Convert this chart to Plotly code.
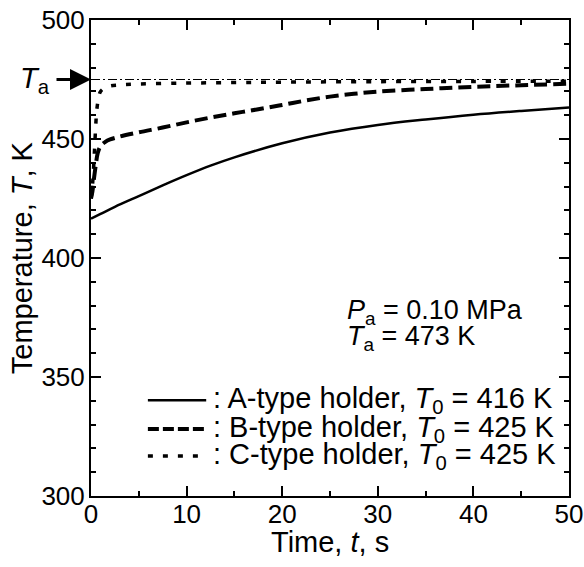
import plotly.graph_objects as go

# ---- data ----
t_A = [0, 1, 2.5, 5, 7.5, 10, 12.5, 15, 20, 25, 30, 35, 40, 45, 50]
T_A = [416.5, 418.5, 421.5, 426, 430.5, 434.8, 438.8, 442.3, 448.2, 452.7, 455.9, 458.2, 460.2, 461.8, 463.2]

t_B = [0, 0.15, 0.3, 0.5, 0.7, 1.0, 1.5, 2, 3, 5, 7.5, 10, 12.5, 15, 17.5, 20, 22.5, 25, 27.5, 30, 35, 40, 45, 50]
T_B = [425, 428, 433, 439, 444, 447, 448.8, 449.8, 451, 452.8, 454.8, 457, 459, 460.8, 462.5, 464.3, 466.2, 467.8, 469, 469.9, 471, 471.9, 472.6, 473.2]

t_C = [0, 0.1, 0.2, 0.3, 0.4, 0.5, 0.6, 0.8, 1.0, 1.5, 2, 3, 5, 10, 15, 20, 30, 40, 50]
T_C = [425, 428, 433, 440, 448, 456, 462, 467.5, 470, 471.6, 472.3, 472.7, 473.1, 473.5, 473.7, 473.9, 474.1, 474.2, 474.3]

t_Ta = [0, 50]
T_Ta = [475, 475]

series_names = [": A-type holder, <i>T</i><sub>0</sub> = 416 K",
                ": B-type holder, <i>T</i><sub>0</sub> = 425 K",
                ": C-type holder, <i>T</i><sub>0</sub> = 425 K"]

x_title = "Time, <i>t</i>, s"
y_title = "Temperature, <i>T</i>, K"

x_range = [0, 50]
y_range = [300, 500]

FONT = "Liberation Sans, Arial, sans-serif"
FS = 29
FA = 27
FT = 26

dashA = "solid"
dashB = "13px,6px"
dashC = "5px,10px"
dashTa = "9px,3px,2px,3px"

fig = go.Figure()
fig.add_trace(go.Scatter(x=t_Ta, y=T_Ta, mode="lines",
                         line=dict(color="black", width=1, dash=dashTa), showlegend=False))
fig.add_trace(go.Scatter(x=t_A, y=T_A, mode="lines", line_shape="spline",
                         line=dict(color="black", width=2.5, dash=dashA), showlegend=False))
fig.add_trace(go.Scatter(x=t_B, y=T_B, mode="lines", line_shape="spline",
                         line=dict(color="black", width=4, dash=dashB), showlegend=False))
fig.add_trace(go.Scatter(x=t_C, y=T_C, mode="lines", line_shape="spline",
                         line=dict(color="black", width=3.5, dash=dashC), showlegend=False))

# custom legend (sample line + text)
rows_y = [0.201, 0.141, 0.084]
styles = [(dashA, 2.5), ("11px,4px", 4), (dashC, 3.5)]
for name, yy, (d, w) in zip(series_names, rows_y, styles):
    fig.add_shape(type="line", xref="paper", yref="paper", x0=0.119, x1=0.241, y0=yy, y1=yy,
                  line=dict(color="black", width=w, dash=d))
    fig.add_annotation(xref="paper", yref="paper", x=0.251, y=yy, xanchor="left", yanchor="middle",
                       text=name, showarrow=False, font=dict(family=FONT, size=FS, color="black"))

fig.add_annotation(xref="paper", yref="paper", x=0.531, y=0.387, xanchor="left", yanchor="middle",
                   text="<i>P</i><sub>a</sub> = 0.10 MPa", showarrow=False,
                   font=dict(family=FONT, size=FA, color="black"))
fig.add_annotation(xref="paper", yref="paper", x=0.531, y=0.332, xanchor="left", yanchor="middle",
                   text="<i>T</i><sub>a</sub> = 473 K", showarrow=False,
                   font=dict(family=FONT, size=FA, color="black"))

# T_a arrow
fig.add_annotation(xref="x", yref="y", x=0, y=475, ax=-36, ay=0, text="", showarrow=True,
                   arrowhead=2, arrowwidth=3, arrowsize=1.4, arrowcolor="black")
fig.add_annotation(xref="paper", yref="y", x=-0.117, y=475, xanchor="center", yanchor="middle",
                   text="<i>T</i><sub>a</sub>", showarrow=False,
                   font=dict(family=FONT, size=FS, color="black"))

# axis titles
fig.add_annotation(xref="paper", yref="paper", x=0.5, y=-0.097, xanchor="center", yanchor="middle",
                   text=x_title, showarrow=False, font=dict(family=FONT, size=FS, color="black"))
fig.add_annotation(xref="paper", yref="paper", x=-0.144, y=0.5, xanchor="center", yanchor="middle",
                   text=y_title, textangle=-90, showarrow=False,
                   font=dict(family=FONT, size=FS, color="black"))

axis_common = dict(showline=True, linecolor="black", linewidth=2, mirror="allticks",
                   ticks="inside", ticklen=10, tickwidth=1.5, tickcolor="black",
                   showgrid=False, zeroline=False, ticklabeloverflow="allow",
                   tickfont=dict(family=FONT, size=FT, color="black"))

fig.update_xaxes(range=x_range, dtick=10, tick0=0, ticklabelstandoff=-6,
                 minor=dict(dtick=5, ticks="inside", ticklen=5, tickwidth=1.5, tickcolor="black", showgrid=False),
                 **axis_common)
fig.update_yaxes(range=y_range, dtick=50, tick0=300, ticklabelstandoff=-1,
                 minor=dict(dtick=10, ticks="inside", ticklen=5, tickwidth=1.5, tickcolor="black", showgrid=False),
                 **axis_common)

fig.update_layout(width=584, height=567, margin=dict(l=91, r=15, t=20, b=71, autoexpand=False),
                  plot_bgcolor="white", paper_bgcolor="white",
                  font=dict(family=FONT, size=FS, color="black"))

fig.write_html("out.html", config={"displayModeBar": False},
               post_script="document.body.style.margin='0';document.body.style.overflow='hidden';")
